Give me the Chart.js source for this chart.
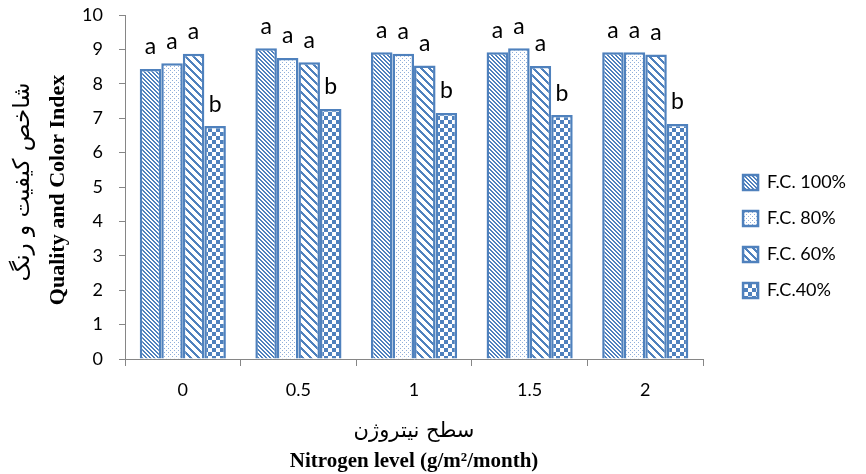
<!DOCTYPE html>
<html>
<head>
<meta charset="UTF-8">
<title>Quality and Color Index</title>
<script src="https://cdn.jsdelivr.net/npm/chart.js@4.4.0/dist/chart.umd.min.js"></script>
<style>
html,body{margin:0;padding:0;background:#fff}
#box{position:relative;width:866px;height:474px}
</style>
</head>
<body>
<div id="box"><canvas id="c" width="866" height="474"></canvas></div>
<script>
// data
const levels   = ['0','0.5','1','1.5','2'];
const fc100    = [8.43, 9.03, 8.92, 8.92, 8.92];
const fc80     = [8.60, 8.75, 8.87, 9.03, 8.92];
const fc60     = [8.87, 8.63, 8.53, 8.52, 8.85];
const fc40     = [6.77, 7.27, 7.15, 7.09, 6.83];
const letters100 = ['a','a','a','a','a'];
const letters80  = ['a','a','a','a','a'];
const letters60  = ['a','a','a','a','a'];
const letters40  = ['b','b','b','b','b'];
const yTicks = [0,1,2,3,4,5,6,7,8,9,10];

const BLUE = '#4F81BD';

function tile(w, h, draw){
  const cv = document.createElement('canvas');
  cv.width = w; cv.height = h;
  const g = cv.getContext('2d');
  g.fillStyle = '#fff'; g.fillRect(0,0,w,h);
  g.fillStyle = BLUE;
  draw(g);
  return document.getElementById('c').getContext('2d').createPattern(cv,'repeat');
}
// narrow downward diagonal
const patNarrow = tile(4,4,g=>{
  for(let i=0;i<4;i++){ g.fillRect(i,i,2,1); g.fillRect(i-4,i,2,1); }
});
// small dots
const patDots = tile(4,4,g=>{
  g.fillStyle = '#8FAEDA';
  g.fillRect(0,0,1,1); g.fillRect(2,2,1,1);
});
// wide downward diagonal
const patWide = tile(8,8,g=>{
  for(let i=0;i<8;i++){ g.fillRect(i,i,3,1); g.fillRect(i-8,i,3,1); }
});
// large checkerboard
const patCheck = tile(8,8,g=>{
  g.fillRect(0,0,4,4); g.fillRect(4,4,4,4);
});

const letterPlugin = {
  id:'letters',
  afterDatasetsDraw(chart){
    const ctx = chart.ctx;
    const sets = [letters100, letters80, letters60, letters40];
    ctx.save();
    ctx.font = '23px Lato, "Open Sans", sans-serif';
    ctx.fillStyle = '#000';
    ctx.textAlign = 'center';
    ctx.textBaseline = 'middle';
    sets.forEach((ls, di)=>{
      chart.getDatasetMeta(di).data.forEach((bar, i)=>{
        ctx.fillText(ls[i], bar.x, bar.y - 22);
      });
    });
    ctx.restore();
  }
};

const titlePlugin = {
  id:'titles',
  afterDraw(chart){
    const ctx = chart.ctx;
    const a = chart.chartArea;
    const midX = (a.left + a.right)/2;
    ctx.save();
    ctx.fillStyle = '#000';
    ctx.textAlign = 'center';
    ctx.textBaseline = 'middle';
    // y titles
    ctx.save();
    ctx.translate(23, 182);
    ctx.rotate(-Math.PI/2);
    ctx.font = '23px "DejaVu Sans", sans-serif';
    ctx.fillText('شاخص کیفیت و رنگ', 0, 0);
    ctx.restore();
    ctx.save();
    ctx.translate(58, 190);
    ctx.rotate(-Math.PI/2);
    ctx.font = 'bold 22px "Liberation Serif", serif';
    ctx.fillText('Quality and Color Index', 0, 0);
    ctx.restore();
    // x titles
    ctx.font = '21px "DejaVu Sans", sans-serif';
    ctx.fillText('سطح نیتروژن', midX, 432);
    ctx.font = 'bold 21px "Liberation Serif", serif';
    ctx.fillText('Nitrogen level (g/m²/month)', midX, 462);
    ctx.restore();
  }
};

const legendShift = 22;
const legendPlugin = {
  id:'legendShift',
  beforeLayout(chart){
    const lg = chart.legend;
    if(lg && !lg._patched){
      const orig = lg.fit;
      lg.fit = function(){ orig.call(this); this.width += legendShift; };
      lg._patched = true;
    }
  },
  afterLayout(chart){
    const lg = chart.legend;
    if(lg){ lg.left += legendShift; lg.top -= 8; lg.bottom -= 8; }
  }
};

function ds(label, data, pat){
  return {label, data, backgroundColor:pat, borderColor:BLUE, borderWidth:2.5,
          categoryPercentage:0.745, barPercentage:1};
}

new Chart(document.getElementById('c'),{
  type:'bar',
  data:{
    labels:levels,
    datasets:[
      ds('F.C. 100%', fc100, patNarrow),
      ds('F.C. 80%', fc80, patDots),
      ds('F.C. 60%', fc60, patWide),
      ds('F.C.40%', fc40, patCheck)
    ]
  },
  options:{
    responsive:false,
    animation:false,
    layout:{padding:{top:15,right:10,left:0,bottom:0}},
    scales:{
      x:{
        grid:{drawOnChartArea:false, tickLength:7, color:'#868686', offset:true},
        border:{color:'#868686'},
        ticks:{font:{size:18, family:'Lato, "Open Sans", sans-serif'}, color:'#000', padding:13},
        afterFit(s){ s.height = 115; }
      },
      y:{
        min:0, max:10,
        afterBuildTicks(s){ s.ticks = yTicks.map(v=>({value:v})); },
        grid:{drawOnChartArea:false, tickLength:6, color:'#868686'},
        border:{color:'#868686'},
        ticks:{font:{size:18, family:'Lato, "Open Sans", sans-serif'}, color:'#000', padding:16},
        afterFit(s){ s.width = 125; s.paddingTop = 0; s.paddingBottom = 0; }
      }
    },
    plugins:{
      legend:{
        position:'right',
        labels:{boxWidth:15, boxHeight:15, padding:18, color:'#000',
                font:{size:18, family:'Lato, "Open Sans", sans-serif'}}
      },
      tooltip:{enabled:false}
    }
  },
  plugins:[letterPlugin, titlePlugin, legendPlugin]
});
</script>
</body>
</html>
